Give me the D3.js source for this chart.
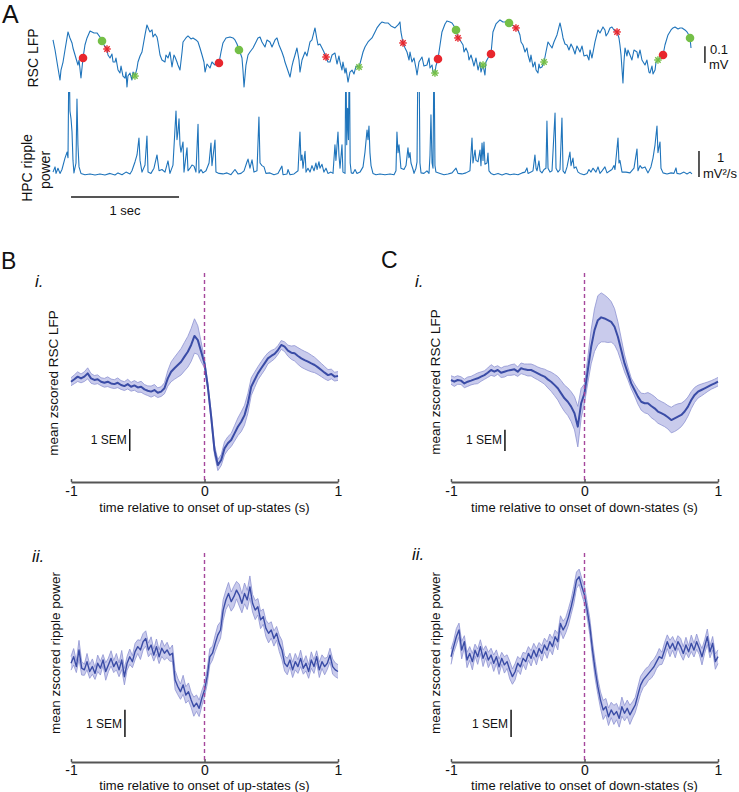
<!DOCTYPE html>
<html><head><meta charset="utf-8">
<script src="https://cdn.jsdelivr.net/npm/d3@7"></script>
<style>body{margin:0;background:#fff}svg{display:block}text{font-family:"Liberation Sans",Arial,sans-serif;fill:#111}</style>
</head><body><svg id="c" width="739" height="792"></svg>
<script>
// ---------- Panel A data (time in ms, LFP in µV, ripple power in mV²/s) ----------
const lfpTrace = [[0,90],[19,30],[46,-78],[65,-150],[74,-90],[93,-42],[111,30],[139,138],[157,102],[176,72],[185,42],[204,0],[231,-60],[241,-30],[259,-138],[278,-18],[296,60],[315,102],[343,144],[380,132],[407,132],[435,108],[454,84],[472,60],[500,36],[509,0],[528,-18],[546,6],[556,-42],[574,-42],[583,-18],[602,-90],[620,-108],[630,-66],[648,-126],[667,-138],[676,-102],[685,-192],[694,-126],[713,-108],[731,-150],[741,-102],[759,-126],[778,-78],[787,-42],[806,-6],[824,18],[852,120],[870,180],[889,150],[898,138],[917,150],[926,108],[945,126],[963,108],[972,78],[991,0],[1009,-30],[1037,-42],[1046,0],[1065,-18],[1083,18],[1102,-72],[1120,0],[1130,-12],[1148,-42],[1157,-60],[1176,-90],[1195,18],[1204,78],[1231,102],[1250,114],[1278,96],[1296,102],[1324,90],[1343,78],[1361,42],[1380,0],[1398,-42],[1408,-102],[1426,-54],[1454,-78],[1472,-42],[1500,-60],[1518,-30],[1537,-48],[1556,18],[1574,72],[1602,102],[1639,108],[1667,102],[1685,90],[1704,66],[1722,30],[1741,0],[1750,-18],[1759,-90],[1769,-192],[1787,-60],[1806,0],[1824,18],[1852,42],[1880,78],[1898,102],[1917,108],[1935,78],[1963,48],[1982,90],[2009,78],[2028,48],[2056,90],[2074,102],[2093,60],[2120,18],[2139,-18],[2148,-42],[2167,-78],[2195,-132],[2213,-66],[2222,-42],[2241,0],[2259,42],[2278,-30],[2287,-102],[2306,-30],[2334,18],[2352,-6],[2380,78],[2398,90],[2426,162],[2445,90],[2454,60],[2472,66],[2491,42],[2509,18],[2528,-12],[2546,-42],[2565,-42],[2584,0],[2611,12],[2630,-54],[2648,-6],[2658,-42],[2676,-90],[2685,-42],[2704,-108],[2713,-78],[2732,-162],[2750,-102],[2769,-90],[2787,-114],[2806,-66],[2834,-72],[2852,-30],[2871,18],[2889,48],[2917,78],[2935,90],[2954,102],[2982,138],[3000,162],[3028,186],[3047,198],[3074,192],[3102,192],[3130,174],[3167,162],[3195,180],[3213,198],[3222,138],[3241,72],[3260,42],[3278,18],[3297,-30],[3306,18],[3324,-42],[3343,-18],[3361,-78],[3371,-120],[3389,-42],[3417,-12],[3435,-66],[3463,-60],[3482,-18],[3491,-78],[3510,-60],[3519,-102],[3537,-108],[3546,-66],[3565,-24],[3584,60],[3602,138],[3630,186],[3648,204],[3676,198],[3695,192],[3713,174],[3732,150],[3750,102],[3769,90],[3797,60],[3806,18],[3824,42],[3843,12],[3852,-30],[3871,0],[3889,-42],[3898,-66],[3917,-18],[3936,-90],[3954,-42],[3963,-102],[3982,-60],[4000,-120],[4009,-42],[4028,-18],[4056,6],[4074,138],[4102,186],[4139,210],[4167,198],[4185,198],[4204,204],[4223,192],[4250,180],[4269,174],[4287,162],[4306,150],[4324,120],[4334,78],[4352,60],[4371,18],[4389,42],[4399,0],[4417,-42],[4426,0],[4445,-72],[4463,-42],[4473,-90],[4491,-108],[4500,-54],[4510,-78],[4528,-72],[4547,-42],[4565,18],[4584,78],[4602,60],[4621,42],[4639,78],[4667,120],[4695,192],[4713,138],[4723,102],[4741,66],[4760,60],[4778,30],[4797,66],[4815,42],[4834,6],[4852,54],[4880,18],[4899,54],[4917,-6],[4945,0],[4963,-30],[4973,30],[4991,-18],[5019,78],[5047,150],[5065,132],[5093,168],[5111,150],[5121,114],[5139,132],[5158,162],[5176,168],[5195,150],[5223,138],[5241,102],[5250,60],[5260,0],[5278,-168],[5287,-42],[5297,42],[5315,-6],[5324,30],[5343,0],[5361,-30],[5380,30],[5408,18],[5417,-18],[5436,30],[5454,-30],[5482,-60],[5500,-30],[5519,-102],[5528,-108],[5547,-66],[5556,-114],[5575,-90],[5584,-42],[5602,-30],[5621,-18],[5649,0],[5667,60],[5695,120],[5723,150],[5741,162],[5760,168],[5788,156],[5806,162],[5825,162],[5852,150],[5871,138],[5889,120],[5899,102],[5908,42]];

const rippleTrace = [[0,0.15],[19,0.35],[28,0.1],[46,0.3],[65,0.1],[83,0.25],[111,0.69],[130,0.92],[139,0.7],[148,5],[157,2.5],[167,2.2],[176,1.7],[185,0.6],[194,0.12],[213,0.5],[222,2.96],[231,1.2],[241,0.35],[259,0.1],[296,0.05],[343,0.08],[389,0.04],[435,0.08],[481,0.04],[528,0.1],[574,0.04],[602,0.12],[639,0.05],[676,0.15],[713,0.08],[731,0.2],[759,0.54],[778,0.81],[796,1.46],[806,0.6],[824,0.15],[852,0.42],[870,1.54],[880,0.15],[907,0.1],[935,0.3],[963,0.81],[982,0.2],[1009,0.25],[1037,0.15],[1065,0.58],[1083,0.1],[1111,0.42],[1139,2.5],[1148,1.4],[1157,1.69],[1167,2.2],[1176,1.2],[1185,0.92],[1204,1.31],[1213,0.15],[1241,1.08],[1250,0.2],[1269,0.3],[1287,0.42],[1306,0.38],[1324,0.15],[1343,1.99],[1352,0.12],[1370,0.25],[1389,0.12],[1417,0.2],[1445,0.5],[1463,1.27],[1472,0.4],[1500,1.38],[1509,0.15],[1537,0.1],[1574,0.08],[1611,0.12],[1648,0.05],[1685,0.25],[1713,0.08],[1741,0.1],[1769,0.2],[1796,0.54],[1806,0.65],[1824,0.3],[1843,0.62],[1861,0.15],[1889,0.2],[1907,2.27],[1917,0.5],[1935,0.4],[1954,0.35],[1972,0.1],[2009,0.12],[2046,0.05],[2083,0.1],[2120,0.38],[2130,0.05],[2167,0.08],[2176,0.25],[2195,0.05],[2232,0.08],[2269,0.2],[2287,1.69],[2296,0.6],[2306,0.81],[2315,0.3],[2334,0.95],[2343,0.15],[2361,0.3],[2380,0.15],[2398,0.4],[2417,0.2],[2435,0.5],[2445,0.25],[2463,0.55],[2472,0.3],[2491,0.45],[2509,0.15],[2528,0.3],[2546,0.1],[2574,0.15],[2593,0.1],[2611,1.2],[2620,0.6],[2639,1.69],[2648,0.8],[2658,0.3],[2676,1.2],[2685,0.15],[2704,0.1],[2712,5],[2720,1.2],[2728,2.6],[2736,1.4],[2744,5],[2752,0.5],[2762,0.12],[2778,0.1],[2797,0.25],[2815,0.1],[2843,0.15],[2871,0.35],[2889,0.92],[2908,1.77],[2917,1.4],[2926,1.92],[2935,0.9],[2945,0.4],[2963,0.1],[2991,0.05],[3028,0.08],[3074,0.05],[3121,0.08],[3158,0.05],[3176,0.2],[3185,1.69],[3195,0.9],[3204,1.2],[3222,0.3],[3250,0.25],[3269,0.4],[3287,1.08],[3296,0.7],[3306,0.9],[3315,0.5],[3334,0.25],[3343,0.1],[3361,0.3],[3371,0.54],[3380,5],[3389,5],[3398,0.5],[3408,0.12],[3435,0.1],[3463,0.2],[3482,0.1],[3491,0.8],[3500,2.35],[3510,0.5],[3519,0.3],[3528,5],[3537,0.4],[3546,0.15],[3584,0.1],[3621,0.05],[3658,0.08],[3695,0.12],[3732,0.3],[3750,0.1],[3787,0.08],[3824,0.12],[3861,0.2],[3880,1.46],[3889,0.5],[3908,1.0],[3917,0.6],[3936,0.55],[3954,1.0],[3963,0.4],[3973,1.27],[3982,0.6],[3991,1.31],[4000,0.45],[4019,0.5],[4028,0.88],[4037,0.2],[4056,0.1],[4083,0.05],[4121,0.1],[4158,0.04],[4195,0.1],[4232,0.05],[4269,0.08],[4306,0.05],[4343,0.12],[4371,0.15],[4389,0.31],[4399,0.1],[4426,0.15],[4445,0.2],[4463,0.81],[4473,0.3],[4482,0.2],[4500,0.58],[4510,0.2],[4528,0.12],[4547,0.25],[4565,0.3],[4574,2.11],[4584,0.3],[4602,0.15],[4621,0.2],[4649,2.42],[4658,0.3],[4676,0.15],[4695,0.25],[4713,2.23],[4723,0.2],[4741,0.1],[4760,0.35],[4787,0.92],[4797,0.4],[4815,0.69],[4825,0.3],[4843,0.35],[4862,0.15],[4880,0.1],[4917,0.05],[4945,0.1],[4963,0.25],[4982,0.15],[5000,0.3],[5028,0.15],[5047,0.35],[5065,0.1],[5084,0.2],[5111,0.35],[5130,0.12],[5158,0.2],[5176,0.25],[5195,0.4],[5204,0.25],[5232,1.46],[5241,0.5],[5250,0.6],[5269,0.15],[5306,0.15],[5343,0.12],[5380,0.3],[5408,1.04],[5417,0.2],[5436,0.4],[5454,0.3],[5482,0.35],[5510,0.12],[5537,0.35],[5556,0.69],[5575,1.2],[5593,1.92],[5602,0.9],[5621,1.31],[5630,0.3],[5649,0.12],[5686,0.08],[5723,0.12],[5750,0.1],[5769,0.31],[5778,0.1],[5806,0.08],[5843,0.15],[5871,0.08],[5899,0.15],[5917,0.08]];

// event markers (ms)
const upOnsetDots = [278, 1537, 3565, 4056, 5649];
const upEndDots = [454, 1722, 3732, 4223, 5899];
const downOnsetStars = [500, 2528, 3241, 3750, 4287, 5223];
const downEndStars = [759, 2834, 3537, 3982, 4547, 5602];

// ---------- Panels B/C data (time in s, values in SEM units) ----------
const upLfpMean = [0,0.11,0.23,0.15,0.23,0.38,0.15,0.08,0.11,0,-0.05,0,-0.08,-0.11,-0.05,-0.15,-0.2,-0.11,-0.23,-0.17,-0.26,-0.23,-0.35,-0.41,-0.45,-0.38,-0.5,-0.45,-0.3,0.15,0.45,0.61,0.76,0.91,1.14,1.36,1.67,2.08,1.89,1.36,0.83,-0.23,-1.59,-3.11,-3.79,-3.56,-3.03,-2.8,-2.65,-2.35,-2.05,-1.82,-1.52,-0.98,-0.23,0.08,0.38,0.61,0.83,1.06,1.17,1.26,1.44,1.67,1.59,1.41,1.32,1.29,1.17,1.06,0.98,0.91,0.83,0.76,0.65,0.53,0.41,0.3,0.35,0.23,0.26];
const upLfpSem = [0.18,0.2,0.22,0.2,0.22,0.25,0.22,0.2,0.2,0.18,0.2,0.22,0.2,0.2,0.22,0.2,0.2,0.22,0.2,0.22,0.22,0.25,0.22,0.22,0.25,0.25,0.22,0.22,0.25,0.35,0.45,0.5,0.55,0.6,0.65,0.7,0.75,0.78,0.65,0.45,0.2,0.15,0.2,0.22,0.25,0.25,0.3,0.3,0.3,0.35,0.4,0.45,0.45,0.45,0.4,0.35,0.3,0.3,0.3,0.25,0.25,0.22,0.2,0.2,0.22,0.25,0.3,0.35,0.38,0.4,0.4,0.4,0.38,0.35,0.32,0.3,0.28,0.25,0.22,0.2,0.2];
const upRipMean = [0,0.24,-0.12,0.49,-0.18,-0.24,0.06,-0.3,-0.12,-0.37,0,-0.18,0.12,-0.3,-0.06,0.18,-0.12,0.06,-0.24,0.12,-0.49,0,0.24,0.06,0.43,0.61,0.49,0.79,0.91,0.49,0.67,0.3,0.61,0.24,0.55,0.37,0.49,0.3,0.37,-0.61,-0.85,-1.04,-0.79,-1.16,-1.04,-1.34,-1.59,-1.46,-1.65,-1.28,-0.98,-0.49,0.24,0.37,0.73,1.04,1.22,1.95,2.32,2.56,2.26,2.44,2.68,2.5,2.2,2.56,2.32,2.8,2.2,1.95,2.07,1.59,1.71,1.28,1.1,1.22,0.91,1.1,0.73,0.49,0,-0.12,0.12,-0.24,0.06,-0.12,0.18,-0.18,0,-0.3,0.12,-0.12,0.24,-0.24,0.06,-0.12,0,0.3,-0.12,-0.24,-0.3];
const upRipSem = [0.25,0.3,0.22,0.35,0.25,0.2,0.3,0.25,0.28,0.22,0.3,0.25,0.2,0.32,0.25,0.28,0.22,0.3,0.25,0.35,0.3,0.25,0.28,0.22,0.3,0.25,0.35,0.3,0.28,0.25,0.3,0.22,0.28,0.25,0.3,0.25,0.28,0.22,0.3,0.35,0.3,0.28,0.35,0.3,0.32,0.28,0.35,0.3,0.3,0.28,0.25,0.28,0.3,0.25,0.3,0.35,0.3,0.38,0.35,0.4,0.35,0.38,0.32,0.4,0.35,0.38,0.35,0.4,0.32,0.35,0.3,0.32,0.28,0.3,0.35,0.3,0.28,0.25,0.3,0.35,0.28,0.3,0.25,0.28,0.3,0.25,0.3,0.22,0.28,0.25,0.3,0.25,0.22,0.28,0.25,0.3,0.22,0.25,0.28,0.25,0.25];
const downLfpMean = [0,-0.08,0,-0.03,-0.16,-0.08,-0.03,0.03,0.08,0.16,0.23,0.34,0.47,0.39,0.47,0.34,0.39,0.44,0.47,0.5,0.39,0.55,0.5,0.47,0.47,0.39,0.31,0.23,0.16,0.03,-0.08,-0.23,-0.39,-0.63,-0.86,-1.02,-1.25,-1.56,-2.19,-1.09,-0.63,0.47,1.56,2.34,2.81,2.94,2.89,2.81,2.73,2.5,2.03,1.41,0.78,0.31,-0.16,-0.47,-0.78,-1.02,-1.09,-1.09,-1.22,-1.33,-1.48,-1.56,-1.64,-1.75,-1.88,-1.8,-1.72,-1.64,-1.48,-1.25,-0.94,-0.7,-0.55,-0.47,-0.39,-0.31,-0.23,-0.16,-0.08];
const downLfpSem = [0.2,0.22,0.2,0.18,0.2,0.22,0.2,0.22,0.25,0.22,0.2,0.22,0.25,0.22,0.2,0.22,0.25,0.22,0.25,0.25,0.22,0.25,0.25,0.28,0.28,0.3,0.3,0.32,0.35,0.4,0.45,0.5,0.55,0.6,0.62,0.65,0.7,0.78,0.95,0.7,0.45,0.6,0.8,1.0,1.15,1.15,1.1,1.05,0.95,0.85,0.7,0.55,0.4,0.3,0.25,0.28,0.35,0.4,0.45,0.5,0.55,0.55,0.55,0.55,0.55,0.55,0.6,0.62,0.6,0.55,0.5,0.45,0.4,0.35,0.3,0.28,0.25,0.22,0.2,0.2,0.2];
const downRipMean = [0,0.37,0.73,0.98,0.24,0.55,-0.12,0.12,-0.18,0.24,0,0.37,-0.06,0.18,-0.12,0.06,-0.24,0,-0.37,-0.06,-0.3,-0.18,-0.49,-0.73,-0.55,-0.24,-0.37,-0.06,-0.18,0.12,-0.06,0.24,0,0.3,0.12,0.43,0.24,0.55,0.37,0.73,0.55,1.22,0.98,1.16,1.46,1.83,2.26,2.8,2.93,2.56,2.26,1.71,1.1,0.24,-0.49,-1.1,-1.59,-1.95,-1.83,-2.2,-1.95,-2.13,-2.01,-2.26,-1.83,-2.07,-1.89,-2.13,-1.95,-1.77,-1.4,-1.04,-0.85,-0.73,-0.61,-0.49,-0.37,-0.18,0,-0.06,0.24,0.55,0.3,0.49,0.24,0.55,0.37,0.12,0.43,0.18,0.49,0.24,0.55,0.3,0,0.37,0.73,0.18,0.49,-0.18,0];
const downRipSem = [0.28,0.22,0.3,0.25,0.32,0.22,0.28,0.25,0.3,0.22,0.28,0.25,0.3,0.22,0.28,0.25,0.3,0.25,0.28,0.22,0.3,0.25,0.32,0.28,0.3,0.25,0.28,0.22,0.3,0.25,0.28,0.25,0.3,0.22,0.28,0.25,0.3,0.28,0.3,0.25,0.3,0.28,0.32,0.28,0.3,0.28,0.32,0.3,0.28,0.3,0.32,0.28,0.3,0.3,0.32,0.28,0.3,0.35,0.3,0.32,0.28,0.35,0.3,0.32,0.35,0.28,0.3,0.35,0.3,0.28,0.3,0.32,0.28,0.3,0.25,0.3,0.28,0.25,0.3,0.22,0.28,0.25,0.3,0.25,0.28,0.22,0.3,0.25,0.28,0.22,0.3,0.25,0.28,0.22,0.3,0.25,0.28,0.22,0.25,0.28,0.25];
const xTickValues = [-1, 0, 1];
const xTickLabels = ['-1', '0', '1'];

// ---------- drawing ----------
const svg = d3.select('#c');
const blue = '#1f74bb';

// Panel A
const xA = d3.scaleLinear().domain([0, 5908]).range([53, 691]);
const yLfp = d3.scaleLinear().domain([0, 100]).range([55, 55 - 16.7]);
const yRip = d3.scaleLinear().domain([0, 1]).range([176, 150]);

svg.append('text').attr('x', 2).attr('y', 23).attr('font-size', 25).text('A');

svg.append('path').datum(lfpTrace)
  .attr('d', d3.line().x(d => xA(d[0])).y(d => yLfp(d[1])))
  .attr('fill', 'none').attr('stroke', blue).attr('stroke-width', 1.1).attr('stroke-linejoin', 'round');

svg.append('clipPath').attr('id', 'ripClip').append('rect')
  .attr('x', 40).attr('y', yRip(3.23)).attr('width', 680).attr('height', 120);
svg.append('path').datum(rippleTrace)
  .attr('clip-path', 'url(#ripClip)')
  .attr('d', d3.line().x(d => xA(d[0])).y(d => yRip(d[1])))
  .attr('fill', 'none').attr('stroke', blue).attr('stroke-width', 1.1).attr('stroke-linejoin', 'round');

function lfpAt(t) {
  const i = d3.bisector(d => d[0]).left(lfpTrace, t);
  if (i <= 0) return lfpTrace[0][1];
  if (i >= lfpTrace.length) return lfpTrace[lfpTrace.length - 1][1];
  const a = lfpTrace[i - 1], b = lfpTrace[i];
  return a[1] + (b[1] - a[1]) * (t - a[0]) / (b[0] - a[0]);
}
const red = '#e8262d', green = '#74bf47';
function dots(times, color) {
  svg.append('g').selectAll('circle').data(times).join('circle')
    .attr('cx', t => xA(t)).attr('cy', t => yLfp(lfpAt(t))).attr('r', 4.3).attr('fill', color);
}
function stars(times, color) {
  const g = svg.append('g').attr('stroke', color).attr('stroke-width', 1.4);
  times.forEach(t => {
    const cx = xA(t), cy = yLfp(lfpAt(t)), r = 3.8;
    [0, 45, 90, 135].forEach(a => {
      const rad = a * Math.PI / 180, dx = r * Math.cos(rad), dy = r * Math.sin(rad);
      g.append('line').attr('x1', cx - dx).attr('y1', cy - dy).attr('x2', cx + dx).attr('y2', cy + dy);
    });
  });
}
dots(upOnsetDots, red);
dots(upEndDots, green);
stars(downOnsetStars, red);
stars(downEndStars, green);

// labels panel A
svg.append('text').attr('transform', 'translate(38,58) rotate(-90)').attr('text-anchor', 'middle')
  .attr('font-size', 14).text('RSC LFP');
svg.append('text').attr('transform', 'translate(32,168) rotate(-90)').attr('text-anchor', 'middle')
  .attr('font-size', 14).text('HPC ripple');
svg.append('text').attr('transform', 'translate(50,170) rotate(-90)').attr('text-anchor', 'middle')
  .attr('font-size', 14).text('power');

// scale bars panel A
svg.append('line').attr('x1', xA(167)).attr('x2', xA(1167)).attr('y1', 197).attr('y2', 197)
  .attr('stroke', '#555').attr('stroke-width', 2);
svg.append('text').attr('x', xA(667)).attr('y', 215).attr('text-anchor', 'middle').attr('font-size', 13).text('1 sec');

svg.append('line').attr('x1', xA(6037)).attr('x2', xA(6037)).attr('y1', yLfp(-48)).attr('y2', yLfp(52))
  .attr('stroke', '#222').attr('stroke-width', 1.5);
svg.append('text').attr('x', 710).attr('y', 54).attr('font-size', 13).text('0.1');
svg.append('text').attr('x', 709).attr('y', 69).attr('font-size', 13).text('mV');

svg.append('line').attr('x1', xA(5982)).attr('x2', xA(5982)).attr('y1', yRip(-0.04)).attr('y2', yRip(0.96))
  .attr('stroke', '#222').attr('stroke-width', 1.5);
svg.append('text').attr('x', 717).attr('y', 162).attr('font-size', 13).text('1');
svg.append('text').attr('x', 703).attr('y', 178).attr('font-size', 13).text('mV²/s');

// Panel letters B, C
svg.append('text').attr('x', 1).attr('y', 269).attr('font-size', 23).text('B');
svg.append('text').attr('x', 381).attr('y', 268).attr('font-size', 23).text('C');

const panels = [
  {mean: upLfpMean, sem: upLfpSem, step: 0.025, x0: 71, x1: 338, axisY: 482, topY: 273, zeroY: 381.7, pxSEM: 22,
   ylabel: 'mean zscored RSC LFP', ylabX: 53, ylabY: 383, xlabel: 'time relative to onset of up-states (s)', xlabY: 512,
   roman: 'i.', romanX: 35, romanY: 287, barT: -0.56, barV: -3.15, meanW: 2, pad: 4},
  {mean: upRipMean, sem: upRipSem, step: 0.02, x0: 71, x1: 338, axisY: 762, topY: 553, zeroY: 663.3, pxSEM: 27.3,
   ylabel: 'mean zscored ripple power', ylabX: 55, ylabY: 653, xlabel: 'time relative to onset of up-states (s)', xlabY: 790,
   roman: 'ii.', romanX: 32, romanY: 562, barT: -0.596, barV: -2.7, meanW: 1.4, pad: 3},
  {mean: downLfpMean, sem: downLfpSem, step: 0.025, x0: 451, x1: 718, axisY: 482, topY: 273, zeroY: 380, pxSEM: 21.3,
   ylabel: 'mean zscored RSC LFP', ylabX: 435, ylabY: 382, xlabel: 'time relative to onset of down-states (s)', xlabY: 512,
   roman: 'i.', romanX: 415, romanY: 287, barT: -0.596, barV: -3.33, meanW: 2, pad: 4},
  {mean: downRipMean, sem: downRipSem, step: 0.02, x0: 451, x1: 718, axisY: 762, topY: 553, zeroY: 656.7, pxSEM: 27.3,
   ylabel: 'mean zscored ripple power', ylabX: 435, ylabY: 653, xlabel: 'time relative to onset of down-states (s)', xlabY: 790,
   roman: 'ii.', romanX: 412, romanY: 560, barT: -0.55, barV: -2.94, meanW: 1.4, pad: 3}
];

panels.forEach(p => {
  const g = svg.append('g');
  const x = d3.scaleLinear().domain([-1, 1]).range([p.x0, p.x1]);
  const y = d3.scaleLinear().domain([0, 1]).range([p.zeroY, p.zeroY - p.pxSEM]);
  const data = p.mean.map((m, i) => ({t: -1 + i * p.step, m: m, s: p.sem[i]}));

  g.append('path').datum(data)
    .attr('d', d3.area().x(d => x(d.t)).y0(d => y(d.m - d.s)).y1(d => y(d.m + d.s)))
    .attr('fill', '#c9cbec').attr('stroke', 'none');
  g.append('path').datum(data)
    .attr('d', d3.line().x(d => x(d.t)).y(d => y(d.m + d.s)))
    .attr('fill', 'none').attr('stroke', '#8e93d2').attr('stroke-width', 0.8);
  g.append('path').datum(data)
    .attr('d', d3.line().x(d => x(d.t)).y(d => y(d.m - d.s)))
    .attr('fill', 'none').attr('stroke', '#8e93d2').attr('stroke-width', 0.8);
  g.append('path').datum(data)
    .attr('d', d3.line().x(d => x(d.t)).y(d => y(d.m)))
    .attr('fill', 'none').attr('stroke', '#3a4ca6').attr('stroke-width', p.meanW).attr('stroke-linejoin', 'round');

  // axis
  const ax = g.append('g').attr('transform', `translate(0,${p.axisY})`)
    .call(d3.axisBottom(x).tickValues(xTickValues).tickFormat((d, i) => xTickLabels[i])
      .tickSizeInner(-3).tickSizeOuter(0).tickPadding(p.pad));
  ax.select('.domain').attr('stroke', '#555').attr('stroke-width', 2);
  ax.selectAll('.tick line').attr('stroke', '#555').attr('stroke-width', 1.5);
  ax.selectAll('.tick text').attr('font-size', 14).attr('fill', '#111')
    .attr('font-family', '"Liberation Sans",Arial,sans-serif');

  // dashed onset line
  g.append('line').attr('x1', x(0)).attr('x2', x(0)).attr('y1', p.topY).attr('y2', p.axisY)
    .attr('stroke', '#a5489c').attr('stroke-width', 1.4).attr('stroke-dasharray', '4,3');

  // SEM scale bar
  g.append('line').attr('x1', x(p.barT)).attr('x2', x(p.barT)).attr('y1', y(p.barV)).attr('y2', y(p.barV + 1))
    .attr('stroke', '#111').attr('stroke-width', 1.5);
  g.append('text').attr('x', x(p.barT) - 3).attr('y', y(p.barV + 0.5)).attr('dy', '0.35em')
    .attr('text-anchor', 'end').attr('font-size', 12).text('1 SEM');

  g.append('text').attr('transform', `translate(${p.ylabX},${p.ylabY}) rotate(-90)`)
    .attr('text-anchor', 'middle').attr('dy', '0.35em').attr('font-size', 13.5).text(p.ylabel);
  g.append('text').attr('x', (p.x0 + p.x1) / 2).attr('y', p.xlabY).attr('text-anchor', 'middle')
    .attr('font-size', 13).text(p.xlabel);
  g.append('text').attr('x', p.romanX).attr('y', p.romanY).attr('font-size', 17).attr('font-style', 'italic').text(p.roman);
});
</script>
</body></html>
